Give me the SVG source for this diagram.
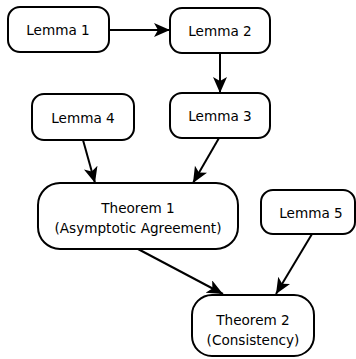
<svg xmlns="http://www.w3.org/2000/svg" width="356" height="359" viewBox="0 0 356 359">
<style>
.box{fill:#fff;stroke:#000;stroke-width:2}
.lbl{font-family:"DejaVu Sans",Verdana,sans-serif;font-size:13.6px;fill:#000;text-anchor:middle}
.edge{stroke:#000;stroke-width:2;fill:none;marker-end:url(#arr)}
</style>
<defs>
<marker id="arr" markerUnits="userSpaceOnUse" markerWidth="18" markerHeight="16" viewBox="0 0 18 16" refX="16" refY="7" orient="auto">
<path d="M0,0 L16,7 L0,14 L4,7 Z" fill="#000"/>
</marker>
</defs>
<rect width="356" height="359" fill="#fff"/>
<g id="connectors">
<line class="edge" x1="109" y1="30" x2="170" y2="30"/>
<line class="edge" x1="220" y1="53" x2="220" y2="93"/>
<line class="edge" x1="83" y1="140" x2="95" y2="183"/>
<line class="edge" x1="219" y1="138" x2="193" y2="183"/>
<line class="edge" x1="138" y1="249" x2="223" y2="294"/>
<line class="edge" x1="312" y1="234" x2="276" y2="294"/>
</g>
<g id="lemma1">
<rect class="box" x="8" y="7" width="101" height="45" rx="12"/>
<text class="lbl" x="58" y="35">Lemma 1</text>
</g>
<g id="lemma2">
<rect class="box" x="170" y="8" width="100" height="45" rx="12"/>
<text class="lbl" x="220" y="36">Lemma 2</text>
</g>
<g id="lemma3">
<rect class="box" x="170" y="93" width="100" height="45" rx="12"/>
<text class="lbl" x="220" y="121">Lemma 3</text>
</g>
<g id="lemma4">
<rect class="box" x="32" y="94" width="102" height="46" rx="12"/>
<text class="lbl" x="83" y="123">Lemma 4</text>
</g>
<g id="theorem1">
<rect class="box" x="38" y="183" width="200" height="66" rx="22"/>
<text class="lbl" x="138" y="213">Theorem 1</text>
<text class="lbl" x="138" y="233">(Asymptotic Agreement)</text>
</g>
<g id="lemma5">
<rect class="box" x="261" y="190" width="94" height="44" rx="12"/>
<text class="lbl" x="311" y="218">Lemma 5</text>
</g>
<g id="theorem2">
<rect class="box" x="192" y="295" width="122" height="61" rx="20"/>
<text class="lbl" x="253" y="325">Theorem 2</text>
<text class="lbl" x="253" y="345">(Consistency)</text>
</g>
</svg>
